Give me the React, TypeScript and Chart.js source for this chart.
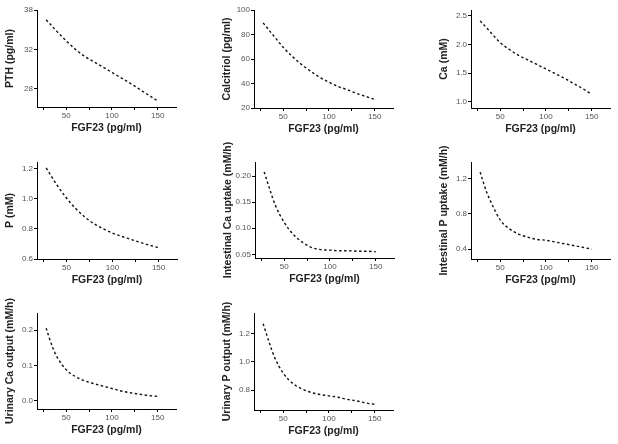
import React, { useEffect, useRef } from "react";
import { Chart, registerables } from "chart.js";

Chart.register(...registerables);

// FGF23 values (pg/ml) along each simulated curve
const fgf23 = [28, 35, 40, 50, 60, 70, 80, 90, 100, 110, 120, 130, 140, 150];

const pth = [35.0, 34.3, 33.8, 32.85, 32.0, 31.3, 30.75, 30.2, 29.65, 29.1, 28.55, 27.95, 27.35, 26.75];
const calcitriol = [89.5, 83, 78.5, 69.5, 62, 55.5, 50, 45, 41, 37.5, 35, 32, 29.5, 27];
const ca = [2.41, 2.29, 2.2, 2.03, 1.91, 1.81, 1.73, 1.65, 1.57, 1.49, 1.41, 1.32, 1.23, 1.13];
const p = [1.205, 1.135, 1.088, 1.005, 0.935, 0.878, 0.834, 0.8, 0.772, 0.75, 0.73, 0.71, 0.692, 0.675];
const intestinalCa = [0.208, 0.17, 0.145, 0.111, 0.088, 0.073, 0.063, 0.059, 0.058, 0.057, 0.057, 0.056, 0.056, 0.055];
const intestinalP = [1.275, 1.05, 0.93, 0.73, 0.63, 0.57, 0.535, 0.51, 0.5, 0.48, 0.46, 0.44, 0.42, 0.4];
const urinaryCa = [0.206, 0.152, 0.124, 0.088, 0.069, 0.057, 0.049, 0.042, 0.035, 0.028, 0.023, 0.019, 0.015, 0.013];
const urinaryP = [1.27, 1.13, 1.04, 0.92, 0.85, 0.81, 0.785, 0.77, 0.76, 0.75, 0.735, 0.725, 0.71, 0.7];

// axis ticks
const xTicks = [25, 50, 75, 100, 125, 150];
const xRange = [18, 170];
const xTitle = "FGF23 (pg/ml)";

const pthTicks = [28, 32, 36];
const pthTickLabels = ["28", "32", "38"];
const calcitriolTicks = [20, 40, 60, 80, 100];
const caTicks = [1.0, 1.5, 2.0, 2.5];
const pTicks = [0.6, 0.8, 1.0, 1.2];
const intestinalCaTicks = [0.05, 0.1, 0.15, 0.2];
const intestinalPTicks = [0.4, 0.8, 1.2];
const urinaryCaTicks = [0.0, 0.1, 0.2];
const urinaryPTicks = [0.8, 1.0, 1.2];

const fmt = (d: number) => (v: number) => v.toFixed(d);

type Panel = {
  title: string;
  values: number[];
  yMin: number;
  yMax: number;
  ticks: number[];
  labels: string[];
  canvas: [number, number, number, number]; // left, top, width, height
  area: [number, number, number, number]; // left, top, right, bottom
};

const panels: Panel[] = [
  { title: "PTH (pg/ml)", values: pth, yMin: 26.14, yMax: 36, ticks: pthTicks, labels: pthTickLabels, canvas: [0, 0, 200, 140], area: [37, 10, 176, 107] },
  { title: "Calcitriol (pg/ml)", values: calcitriol, yMin: 20, yMax: 100, ticks: calcitriolTicks, labels: calcitriolTicks.map(fmt(0)), canvas: [200, 0, 210, 140], area: [254, 10, 393, 108] },
  { title: "Ca (mM)", values: ca, yMin: 0.89, yMax: 2.6, ticks: caTicks, labels: caTicks.map(fmt(1)), canvas: [410, 0, 208, 140], area: [471, 10, 610, 108] },
  { title: "P (mM)", values: p, yMin: 0.6, yMax: 1.244, ticks: pTicks, labels: pTicks.map(fmt(1)), canvas: [0, 140, 200, 150], area: [37, 162, 177, 259] },
  { title: "Intestinal Ca uptake (mM/h)", values: intestinalCa, yMin: 0.043, yMax: 0.227, ticks: intestinalCaTicks, labels: intestinalCaTicks.map(fmt(2)), canvas: [200, 140, 210, 150], area: [255, 162, 394, 258] },
  { title: "Intestinal P uptake (mM/h)", values: intestinalP, yMin: 0.287, yMax: 1.39, ticks: intestinalPTicks, labels: intestinalPTicks.map(fmt(1)), canvas: [410, 140, 208, 150], area: [471, 162, 610, 259] },
  { title: "Urinary Ca output (mM/h)", values: urinaryCa, yMin: -0.023, yMax: 0.249, ticks: urinaryCaTicks, labels: urinaryCaTicks.map(fmt(1)), canvas: [0, 290, 200, 154], area: [37, 313, 176, 409] },
  { title: "Urinary P output (mM/h)", values: urinaryP, yMin: 0.66, yMax: 1.346, ticks: urinaryPTicks, labels: urinaryPTicks.map(fmt(1)), canvas: [200, 290, 210, 154], area: [254, 313, 393, 410] },
];

const Y_W = 37;
const X_H = 28;
const tickFont = { family: "'Liberation Sans', Arial, sans-serif", size: 8 };
const titleFont = { family: "'Liberation Sans', Arial, sans-serif", size: 10.5, weight: "bold" as const };

function PanelChart({ panel }: { panel: Panel }) {
  const ref = useRef<HTMLCanvasElement>(null);
  useEffect(() => {
    if (!ref.current) return;
    const [cl, ct, cw, ch] = panel.canvas;
    const [al, at, ar, ab] = panel.area;
    const chart = new Chart(ref.current, {
      type: "line",
      data: {
        datasets: [
          {
            data: fgf23.map((x, i) => ({ x, y: panel.values[i] })),
            borderColor: "#111",
            borderWidth: 1.4,
            borderDash: [2.5, 2.5],
            pointRadius: 0,
            cubicInterpolationMode: "monotone",
            fill: false,
          },
        ],
      },
      options: {
        animation: false,
        responsive: false,
        maintainAspectRatio: false,
        plugins: { legend: { display: false }, tooltip: { enabled: false } },
        layout: {
          padding: {
            left: al - cl - Y_W,
            top: at - ct,
            right: cl + cw - ar,
            bottom: ch - (ab - ct) - X_H,
          },
        },
        scales: {
          x: {
            type: "linear",
            min: xRange[0],
            max: xRange[1],
            afterFit: (s: any) => { s.height = X_H; },
            afterBuildTicks: (s: any) => { s.ticks = xTicks.map((v) => ({ value: v })); },
            ticks: {
              autoSkip: false,
              maxRotation: 0,
              padding: 1,
              color: "#555",
              font: tickFont,
              callback: (v: any) => (Number(v) % 50 === 0 ? String(v) : ""),
            },
            grid: { drawOnChartArea: false, drawTicks: true, tickLength: 3, color: "#000" },
            border: { display: true, color: "#000", width: 1 },
            title: { display: true, text: xTitle, color: "#222", font: titleFont, padding: { top: 0, bottom: 1 } },
          },
          y: {
            type: "linear",
            min: panel.yMin,
            max: panel.yMax,
            afterFit: (s: any) => { s.width = Y_W; },
            afterBuildTicks: (s: any) => { s.ticks = panel.ticks.map((v) => ({ value: v })); },
            ticks: {
              autoSkip: false,
              padding: 1,
              color: "#555",
              font: tickFont,
              callback: (_v: any, i: number) => panel.labels[i],
            },
            grid: { drawOnChartArea: false, drawTicks: true, tickLength: 3, color: "#000" },
            border: { display: true, color: "#000", width: 1 },
            title: { display: true, text: panel.title, color: "#222", font: titleFont, padding: { top: 4, bottom: 0 } },
          },
        },
      },
    });
    return () => chart.destroy();
  }, [panel]);
  const [cl, ct, cw, ch] = panel.canvas;
  return (
    <canvas
      ref={ref}
      width={cw}
      height={ch}
      style={{ position: "absolute", left: cl, top: ct, width: cw, height: ch }}
    />
  );
}

export default function App() {
  return (
    <div style={{ position: "absolute", left: 0, top: 0, width: 618, height: 444, background: "#fff", overflow: "hidden" }}>
      {panels.map((pn, i) => (
        <PanelChart key={i} panel={pn} />
      ))}
    </div>
  );
}
